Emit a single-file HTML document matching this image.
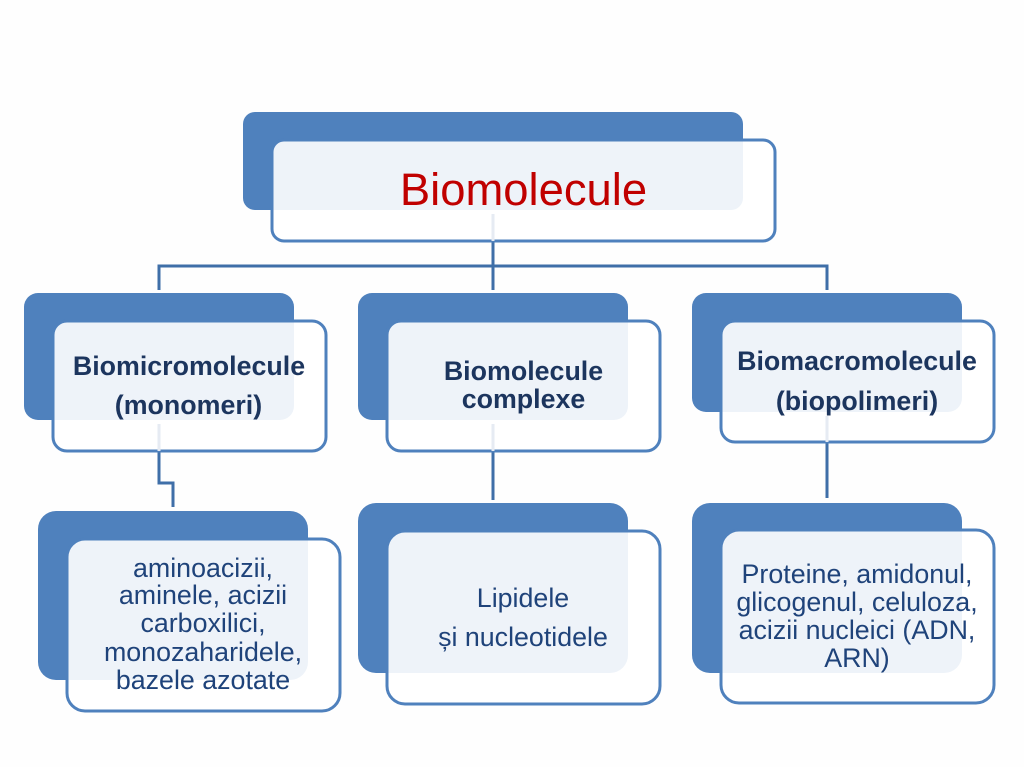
<!DOCTYPE html>
<html>
<head>
<meta charset="utf-8">
<style>
html,body{margin:0;padding:0;background:#fff;width:1024px;height:767px;overflow:hidden}
svg{display:block}
text{font-family:"Liberation Sans",sans-serif;text-anchor:middle}
.b{font-weight:bold;font-size:26.8px;fill:#1C355E}
.r{font-size:26.8px;fill:#1F437A}
.back{fill:#4F81BD}
.front{fill:#fff;fill-opacity:.9;stroke:#4F81BD;stroke-width:3}
.conn{fill:none;stroke:#3F6FA8;stroke-width:3}
.faint{fill:none;stroke:#E6EBF3;stroke-width:3}
</style>
</head>
<body>
<svg width="1024" height="767" viewBox="0 0 1024 767" xmlns="http://www.w3.org/2000/svg">
<rect width="1024" height="767" fill="#fefefe"/>

<!-- connectors -->
<path class="conn" d="M493 241V290M159 290V266H827V290"/>
<path class="conn" d="M159 451V483H173V507"/>
<path class="conn" d="M493 451V500"/>
<path class="conn" d="M827 442V498"/>

<!-- top -->
<rect class="back" x="243" y="112" width="500" height="98" rx="12"/>
<rect class="front" x="272" y="140" width="503" height="101" rx="12"/>
<path class="faint" d="M493 214V241"/>
<text x="523.5" y="205" font-size="45.4" fill="#C00000">Biomolecule</text>

<!-- middle row -->
<rect class="back" x="24" y="293" width="270" height="127" rx="14"/>
<rect class="front" x="53" y="321" width="273" height="130" rx="14"/>
<path class="faint" d="M159 424V451"/>
<text class="b" x="189" y="375">Biomicromolecule</text>
<text class="b" x="188.500" y="414">(monomeri)</text>

<rect class="back" x="358" y="293" width="270" height="127" rx="14"/>
<rect class="front" x="387" y="321" width="273" height="130" rx="14"/>
<path class="faint" d="M493 424V451"/>
<text class="b" x="523.500" y="380">Biomolecule</text>
<text class="b" x="523.500" y="408">complexe</text>

<rect class="back" x="692" y="293" width="270" height="119" rx="14"/>
<rect class="front" x="721" y="321" width="273" height="121" rx="14"/>
<path class="faint" d="M827 416V442"/>
<text class="b" x="857" y="370">Biomacromolecule</text>
<text class="b" x="857" y="410">(biopolimeri)</text>

<!-- bottom row -->
<rect class="back" x="38" y="511" width="270" height="169" rx="18"/>
<rect class="front" x="67" y="539" width="273" height="172" rx="18"/>
<text class="r" x="203" y="577">aminoacizii,</text>
<text class="r" x="203" y="604">aminele, acizii</text>
<text class="r" x="203" y="632">carboxilici,</text>
<text class="r" x="203" y="661">monozaharidele,</text>
<text class="r" x="203" y="689">bazele azotate</text>

<rect class="back" x="358" y="503" width="270" height="170" rx="18"/>
<rect class="front" x="387" y="531" width="273" height="173" rx="18"/>
<text class="r" x="523" y="607">Lipidele</text>
<text class="r" x="523" y="646">și nucleotidele</text>

<rect class="back" x="692" y="503" width="270" height="170" rx="18"/>
<rect class="front" x="721" y="530" width="273" height="173" rx="18"/>
<text class="r" x="857" y="583">Proteine, amidonul,</text>
<text class="r" x="857" y="611">glicogenul, celuloza,</text>
<text class="r" x="857" y="639">acizii nucleici (ADN,</text>
<text class="r" x="857" y="667">ARN)</text>
</svg>
</body>
</html>
